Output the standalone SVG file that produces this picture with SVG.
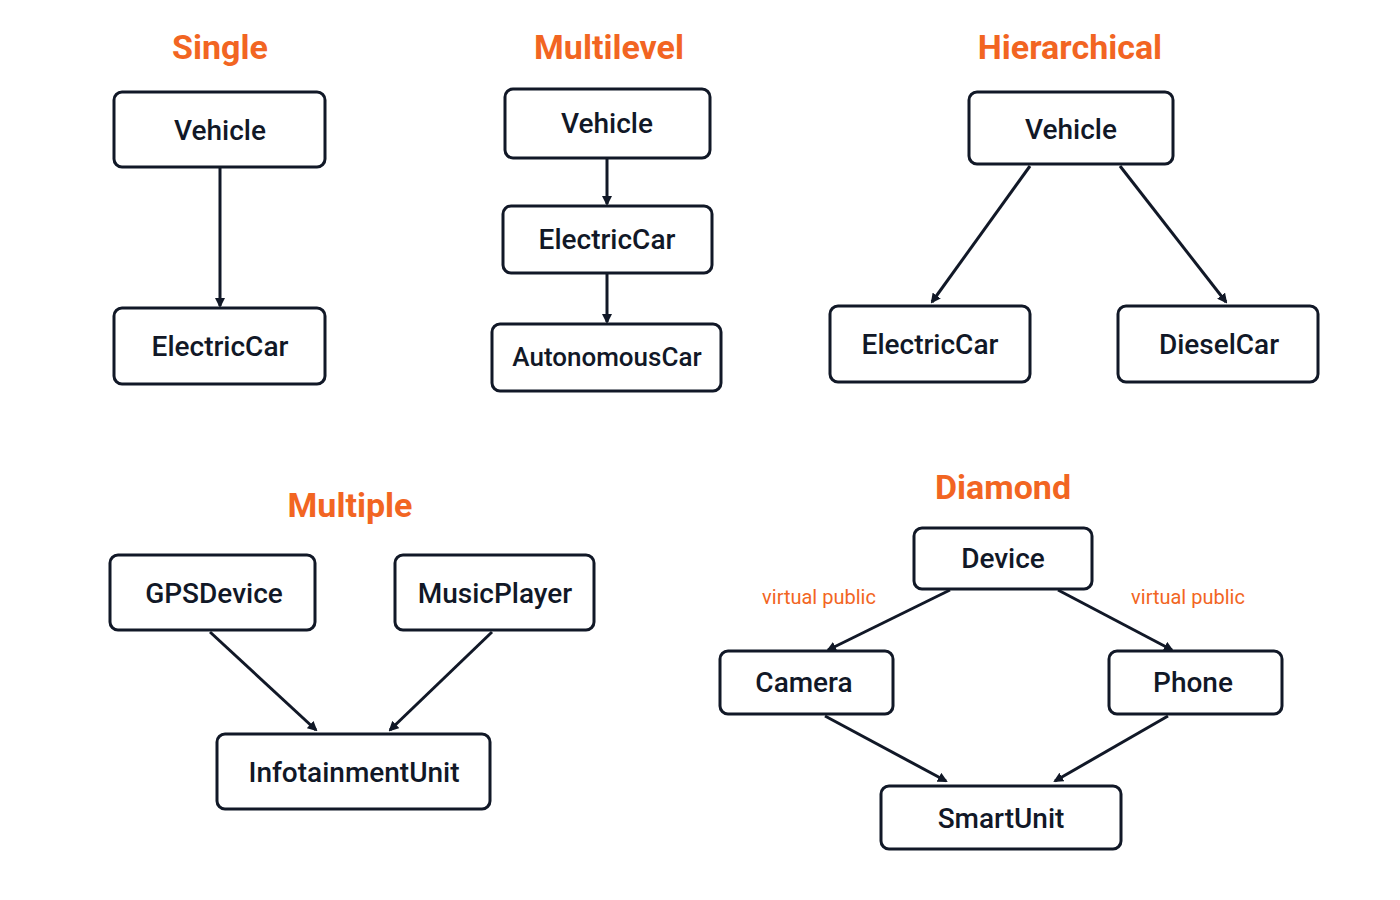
<svg xmlns="http://www.w3.org/2000/svg" width="1400" height="900" viewBox="0 0 1400 900">
<style>
.t{font-family:Roboto,"Liberation Sans",sans-serif;font-weight:700;font-size:34px;fill:#F26522;text-anchor:middle}
.b{fill:#fff;stroke:#111827;stroke-width:3}
.n{font-family:Roboto,"Liberation Sans",sans-serif;font-weight:500;font-size:28px;fill:#111827;text-anchor:middle;dominant-baseline:central}
.l{font-family:Roboto,"Liberation Sans",sans-serif;font-size:20px;fill:#F26522;text-anchor:middle}
.c{stroke:#111827;stroke-width:3;fill:none;marker-end:url(#a)}
</style>
<defs><marker id="a" markerWidth="10" markerHeight="10" refX="8" refY="5" orient="auto" markerUnits="userSpaceOnUse" viewBox="0 0 10 10"><path d="M0,0 L10,5 L0,10 z" fill="#111827"/></marker></defs>
<rect width="1400" height="900" fill="#fff"/>
<text class="t" x="220" y="59">Single</text>
<text class="t" x="609" y="59">Multilevel</text>
<text class="t" x="1070" y="59">Hierarchical</text>
<text class="t" x="350" y="517">Multiple</text>
<text class="t" x="1003" y="499">Diamond</text>
<g id="connectors">
<line class="c" x1="220" y1="168" x2="220" y2="306"/>
<line class="c" x1="607" y1="158" x2="607" y2="204"/>
<line class="c" x1="607" y1="274" x2="607" y2="322"/>
<line class="c" x1="1030" y1="166" x2="932" y2="302"/>
<line class="c" x1="1120" y1="166" x2="1226" y2="302"/>
<line class="c" x1="210" y1="632" x2="316" y2="730"/>
<line class="c" x1="492" y1="632" x2="390" y2="730"/>
<line class="c" x1="950" y1="590" x2="828" y2="650"/>
<line class="c" x1="1058" y1="590" x2="1172" y2="650"/>
<line class="c" x1="825" y1="716" x2="946" y2="781"/>
<line class="c" x1="1168" y1="716" x2="1055" y2="781"/>
<text class="l" x="819" y="604">virtual public</text>
<text class="l" x="1188" y="604">virtual public</text>
</g>
<g id="s-vehicle"><rect class="b" x="114" y="92" width="211" height="75" rx="8"/><text class="n" x="220" y="130">Vehicle</text></g>
<g id="s-electric"><rect class="b" x="114" y="308" width="211" height="76" rx="8"/><text class="n" x="220" y="346">ElectricCar</text></g>
<g id="m-vehicle"><rect class="b" x="505" y="89" width="205" height="69" rx="8"/><text class="n" x="607" y="123">Vehicle</text></g>
<g id="m-electric"><rect class="b" x="503" y="206" width="209" height="67" rx="8"/><text class="n" x="607" y="239">ElectricCar</text></g>
<g id="m-auto"><rect class="b" x="492" y="324" width="229" height="67" rx="8"/><text class="n" x="607" y="357" style="font-size:26px">AutonomousCar</text></g>
<g id="h-vehicle"><rect class="b" x="969" y="92" width="204" height="72" rx="8"/><text class="n" x="1071" y="129">Vehicle</text></g>
<g id="h-electric"><rect class="b" x="830" y="306" width="200" height="76" rx="8"/><text class="n" x="930" y="344">ElectricCar</text></g>
<g id="h-diesel"><rect class="b" x="1118" y="306" width="200" height="76" rx="8"/><text class="n" x="1219" y="344">DieselCar</text></g>
<g id="gps"><rect class="b" x="110" y="555" width="205" height="75" rx="8"/><text class="n" x="214" y="593">GPSDevice</text></g>
<g id="music"><rect class="b" x="395" y="555" width="199" height="75" rx="8"/><text class="n" x="495" y="593">MusicPlayer</text></g>
<g id="info"><rect class="b" x="217" y="734" width="273" height="75" rx="8"/><text class="n" x="354" y="772">InfotainmentUnit</text></g>
<g id="device"><rect class="b" x="914" y="528" width="178" height="61" rx="8"/><text class="n" x="1003" y="558">Device</text></g>
<g id="camera"><rect class="b" x="720" y="651" width="173" height="63" rx="8"/><text class="n" x="804" y="682">Camera</text></g>
<g id="phone"><rect class="b" x="1109" y="651" width="173" height="63" rx="8"/><text class="n" x="1193" y="682">Phone</text></g>
<g id="smart"><rect class="b" x="881" y="786" width="240" height="63" rx="8"/><text class="n" x="1001" y="818">SmartUnit</text></g>
</svg>
